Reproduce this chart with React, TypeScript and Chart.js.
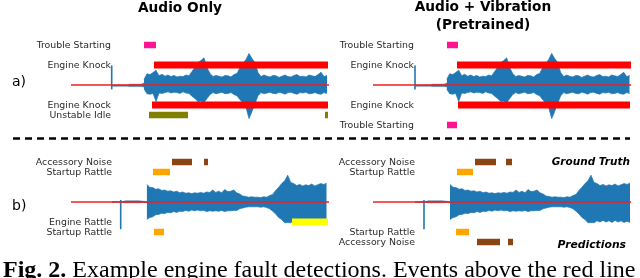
import React, { useEffect, useRef } from "react";
import { Chart, registerables } from "chart.js";

Chart.register(...registerables);

// ---------- shared axes (time in s, amplitude normalised) ----------
const T_MIN = 0;
const T_MAX = 25.8;
const AMP_MIN = -1.25;
const AMP_MAX = 1.25;

// ---------- waveform envelopes (sampled every WAVE_DT seconds) ----------
const WAVE_DT = 0.3;

// row a) recording
const WAVE_A_UPPER = [
  0.14, 0.28, 0.26, 0.31, 0.37, 0.23, 0.27, 0.22, 0.25, 0.21,
  0.24, 0.20, 0.22, 0.21, 0.25, 0.23, 0.34, 0.45, 0.56, 0.61,
  0.68, 0.44, 0.29, 0.21, 0.24, 0.22, 0.20, 0.24, 0.23, 0.20,
  0.26, 0.29, 0.44, 0.54, 0.64, 0.79, 0.66, 0.56, 0.31, 0.21,
  0.25, 0.22, 0.20, 0.24, 0.23, 0.19, 0.22, 0.25, 0.21, 0.20,
  0.24, 0.26, 0.21, 0.22, 0.20, 0.25, 0.23, 0.21, 0.26, 0.32,
  0.21, 0.24,
];
const WAVE_A_LOWER = [
  -0.10, -0.22, -0.23, -0.21, -0.41, -0.20, -0.21, -0.19, -0.17, -0.20,
  -0.18, -0.19, -0.21, -0.17, -0.20, -0.21, -0.28, -0.34, -0.41, -0.40,
  -0.44, -0.34, -0.24, -0.19, -0.22, -0.20, -0.18, -0.22, -0.21, -0.19,
  -0.24, -0.27, -0.37, -0.44, -0.56, -0.84, -0.66, -0.46, -0.27, -0.19,
  -0.22, -0.20, -0.18, -0.21, -0.22, -0.18, -0.20, -0.23, -0.19, -0.18,
  -0.21, -0.23, -0.19, -0.20, -0.18, -0.22, -0.21, -0.19, -0.22, -0.23,
  -0.19, -0.21,
];
const CLICK_A = [-0.11, 0.49]; // short transient before engine start
const PRE_A_T = [4.1, 5.7, 5.8, 7.0, 7.3];
const PRE_A_UP = [0.0, 0.0, 0.02, 0.02, 0.05];
const PRE_A_LO = [-0.03, -0.03, -0.04, -0.04, -0.05];

// row b) recording
const WAVE_B_UPPER = [
  0.44, 0.37, 0.36, 0.32, 0.33, 0.29, 0.30, 0.27, 0.28, 0.25,
  0.27, 0.23, 0.25, 0.22, 0.23, 0.21, 0.23, 0.22, 0.24, 0.22,
  0.25, 0.24, 0.30, 0.24, 0.27, 0.23, 0.31, 0.26, 0.27, 0.30,
  0.23, 0.20, 0.15, 0.14, 0.12, 0.13, 0.12, 0.12, 0.11, 0.13,
  0.12, 0.16, 0.19, 0.29, 0.37, 0.46, 0.53, 0.67, 0.49, 0.46,
  0.41, 0.44, 0.40, 0.43, 0.41, 0.45, 0.40, 0.43, 0.46, 0.44,
  0.47,
];
const WAVE_B_LOWER = [
  -0.44, -0.39, -0.37, -0.32, -0.31, -0.28, -0.29, -0.26, -0.27, -0.24,
  -0.26, -0.23, -0.24, -0.21, -0.23, -0.20, -0.22, -0.20, -0.22, -0.21,
  -0.24, -0.22, -0.23, -0.22, -0.23, -0.21, -0.24, -0.22, -0.22, -0.21,
  -0.21, -0.17, -0.15, -0.13, -0.12, -0.12, -0.12, -0.12, -0.13, -0.12,
  -0.14, -0.17, -0.23, -0.30, -0.39, -0.44, -0.52, -0.51, -0.52, -0.47,
  -0.50, -0.46, -0.50, -0.47, -0.51, -0.46, -0.50, -0.47, -0.51, -0.48,
  -0.51,
];
const CLICK_B = [-0.68, 0.05];
const PRE_B_T = [4.1, 5.2, 5.4, 6.8, 7.6];
const PRE_B_UP = [0.01, 0.01, 0.03, 0.03, 0.01];
const PRE_B_LO = [-0.01, -0.01, -0.02, -0.02, -0.01];

// ---------- event intervals [start, end] in seconds ----------
// a) Audio only
const A1_GT_TROUBLE = [[7.3, 8.5]];
const A1_GT_KNOCK = [[8.3, 25.7]];
const A1_PR_KNOCK = [[8.1, 25.7]];
const A1_PR_IDLE = [[7.8, 11.7], [25.4, 25.7]];
// a) Audio + vibration
const A2_GT_TROUBLE = [[7.4, 8.5]];
const A2_GT_KNOCK = [[8.4, 25.8]];
const A2_PR_KNOCK = [[8.5, 25.7]];
const A2_PR_TROUBLE = [[7.4, 8.4]];
// b) Audio only
const B1_GT_ACCESSORY = [[10.1, 12.1], [13.3, 13.7]];
const B1_GT_STARTUP = [[8.2, 9.9]];
const B1_PR_ENGINE = [[22.1, 25.7]];
const B1_PR_STARTUP = [[8.3, 9.3]];
// b) Audio + vibration
const B2_GT_ACCESSORY = [[10.2, 12.3], [13.3, 13.9]];
const B2_GT_STARTUP = [[8.4, 10.0]];
const B2_PR_STARTUP = [[8.3, 9.6]];
const B2_PR_ACCESSORY = [[10.4, 12.7], [13.5, 14.0]];

// ---------- styles ----------
const WAVE_COLOR = "#1f77b4";
const RED = "#ff0000";
const PINK = "#ff1493";
const OLIVE = "#808000";
const ORANGE = "#ffa500";
const BROWN = "#8b4513";
const YELLOW = "#ffff00";
const LABEL_FONT = '9.4px "DejaVu Sans"';
const LABEL_COLOR = "#2b2b2b";

type Row = { label: string; y: number; color: string; spans: number[][]; width?: number };
type PanelSpec = {
  rows: Row[];
  labelT: number;
  waveStart: number;
  upper: number[];
  lower: number[];
  clickT: number;
  click: number[];
  preT: number[];
  preUp: number[];
  preLo: number[];
};

function pts(xs: number[], ys: number[]) {
  return xs.map((x, i) => ({ x, y: ys[i] }));
}
function wavePts(start: number, ys: number[]) {
  return ys.map((y, i) => ({ x: start + i * WAVE_DT, y }));
}

function buildDatasets(p: PanelSpec) {
  const ds: any[] = [];
  const base = { pointRadius: 0, tension: 0, borderCapStyle: "butt", fill: false };
  // event bars (on top)
  p.rows.forEach((r) => {
    r.spans.forEach(([s, e]) => {
      ds.push({
        ...base,
        data: [{ x: s, y: r.y }, { x: e, y: r.y }],
        borderColor: r.color,
        borderWidth: r.width ?? 6.5,
      });
    });
  });
  // red reference line
  ds.push({
    ...base,
    data: [{ x: T_MIN, y: 0 }, { x: T_MAX, y: 0 }],
    borderColor: "#f01e23",
    borderWidth: 1.3,
  });
  // transient click
  ds.push({
    ...base,
    data: [{ x: p.clickT, y: p.click[0] }, { x: p.clickT, y: p.click[1] }],
    borderColor: WAVE_COLOR,
    borderWidth: 1.6,
  });
  // pre-start low-level signal
  ds.push({
    ...base,
    data: pts(p.preT, p.preUp),
    borderColor: "#4a6f96",
    backgroundColor: "#4a6f96",
    borderWidth: 0.5,
    fill: "+1",
  });
  ds.push({
    ...base,
    data: pts(p.preT, p.preLo),
    borderColor: "#4a6f96",
    borderWidth: 0.5,
  });
  // engine waveform envelope
  ds.push({
    ...base,
    data: wavePts(p.waveStart, p.upper),
    borderColor: WAVE_COLOR,
    backgroundColor: WAVE_COLOR,
    borderWidth: 0.7,
    fill: "+1",
  });
  ds.push({
    ...base,
    data: wavePts(p.waveStart, p.lower),
    borderColor: WAVE_COLOR,
    borderWidth: 0.7,
  });
  return ds;
}

function labelPlugin(p: PanelSpec) {
  return {
    id: "rowLabels",
    afterDatasetsDraw(chart: any) {
      const ctx = chart.ctx;
      const xs = chart.scales.x;
      const ys = chart.scales.y;
      ctx.save();
      ctx.font = LABEL_FONT;
      ctx.fillStyle = LABEL_COLOR;
      ctx.textAlign = "right";
      ctx.textBaseline = "alphabetic";
      const x = xs.getPixelForValue(p.labelT);
      p.rows.forEach((r) => {
        ctx.fillText(r.label, x, ys.getPixelForValue(r.y) + 3.4);
      });
      ctx.restore();
    },
  };
}

const PANEL_W = 300;
const PANEL_H = 100;
const PAD_LEFT = 41;

function Panel({ left, top, spec }: { left: number; top: number; spec: PanelSpec }) {
  const ref = useRef<HTMLCanvasElement>(null);
  useEffect(() => {
    const chart = new Chart(ref.current as HTMLCanvasElement, {
      type: "line",
      data: { datasets: buildDatasets(spec) },
      options: {
        animation: false,
        responsive: false,
        devicePixelRatio: 1,
        events: [],
        layout: { padding: { left: PAD_LEFT, right: 1, top: 0, bottom: 0 } },
        scales: {
          x: { type: "linear", min: T_MIN, max: T_MAX, display: false },
          y: { type: "linear", min: AMP_MIN, max: AMP_MAX, display: false },
        },
        plugins: { legend: { display: false }, tooltip: { enabled: false } },
      },
      plugins: [labelPlugin(spec)],
    } as any);
    return () => chart.destroy();
  }, []);
  return (
    <canvas
      ref={ref}
      width={PANEL_W}
      height={PANEL_H}
      style={{ position: "absolute", left, top, width: PANEL_W, height: PANEL_H }}
    />
  );
}

const PANEL_A1: PanelSpec = {
  rows: [
    { label: "Trouble Starting", y: 1.0, color: PINK, spans: A1_GT_TROUBLE },
    { label: "Engine Knock", y: 0.5, color: RED, spans: A1_GT_KNOCK, width: 7 },
    { label: "Engine Knock", y: -0.5, color: RED, spans: A1_PR_KNOCK, width: 7 },
    { label: "Unstable Idle", y: -0.75, color: OLIVE, spans: A1_PR_IDLE },
  ],
  labelT: 4.0,
  waveStart: 7.3,
  upper: WAVE_A_UPPER,
  lower: WAVE_A_LOWER,
  clickT: 4.07,
  click: CLICK_A,
  preT: PRE_A_T,
  preUp: PRE_A_UP,
  preLo: PRE_A_LO,
};
const PANEL_A2: PanelSpec = {
  rows: [
    { label: "Trouble Starting", y: 1.0, color: PINK, spans: A2_GT_TROUBLE },
    { label: "Engine Knock", y: 0.5, color: RED, spans: A2_GT_KNOCK, width: 7 },
    { label: "Engine Knock", y: -0.5, color: RED, spans: A2_PR_KNOCK, width: 7 },
    { label: "Trouble Starting", y: -1.0, color: PINK, spans: A2_PR_TROUBLE },
  ],
  labelT: 4.1,
  waveStart: 7.37,
  upper: WAVE_A_UPPER,
  lower: WAVE_A_LOWER,
  clickT: 4.2,
  click: CLICK_A,
  preT: PRE_A_T.map((t) => t + 0.1),
  preUp: PRE_A_UP,
  preLo: PRE_A_LO,
};
const PANEL_B1: PanelSpec = {
  rows: [
    { label: "Accessory Noise", y: 1.0, color: BROWN, spans: B1_GT_ACCESSORY },
    { label: "Startup Rattle", y: 0.75, color: ORANGE, spans: B1_GT_STARTUP },
    { label: "Engine Rattle", y: -0.5, color: YELLOW, spans: B1_PR_ENGINE, width: 7 },
    { label: "Startup Rattle", y: -0.75, color: ORANGE, spans: B1_PR_STARTUP },
  ],
  labelT: 4.1,
  waveStart: 7.57,
  upper: WAVE_B_UPPER,
  lower: WAVE_B_LOWER,
  clickT: 4.97,
  click: CLICK_B,
  preT: PRE_B_T,
  preUp: PRE_B_UP,
  preLo: PRE_B_LO,
};
const PANEL_B2: PanelSpec = {
  rows: [
    { label: "Accessory Noise", y: 1.0, color: BROWN, spans: B2_GT_ACCESSORY },
    { label: "Startup Rattle", y: 0.75, color: ORANGE, spans: B2_GT_STARTUP },
    { label: "Startup Rattle", y: -0.75, color: ORANGE, spans: B2_PR_STARTUP },
    { label: "Accessory Noise", y: -1.0, color: BROWN, spans: B2_PR_ACCESSORY },
  ],
  labelT: 4.2,
  waveStart: 7.7,
  upper: WAVE_B_UPPER,
  lower: WAVE_B_LOWER,
  clickT: 5.1,
  click: CLICK_B,
  preT: PRE_B_T.map((t) => t + 0.1),
  preUp: PRE_B_UP,
  preLo: PRE_B_LO,
};

const SANS = '"DejaVu Sans", sans-serif';
const SERIF = '"Liberation Serif", "Times New Roman", serif';

export default function App() {
  return (
    <div
      style={{
        position: "fixed",
        left: 0,
        top: 0,
        width: 640,
        height: 278,
        overflow: "hidden",
        background: "#ffffff",
      }}
    >
      <Panel left={30} top={35} spec={PANEL_A1} />
      <Panel left={332} top={35} spec={PANEL_A2} />
      <Panel left={30} top={152} spec={PANEL_B1} />
      <Panel left={332} top={152} spec={PANEL_B2} />
      <svg
        width={640}
        height={278}
        style={{ position: "absolute", left: 0, top: 0, pointerEvents: "none" }}
      >
        <text x={180} y={11.7} textAnchor="middle" fontFamily={SANS} fontWeight="bold" fontSize={13.7} fill="#000">
          Audio Only
        </text>
        <text x={483} y={10.5} textAnchor="middle" fontFamily={SANS} fontWeight="bold" fontSize={13.7} fill="#000">
          Audio + Vibration
        </text>
        <text x={483} y={29} textAnchor="middle" fontFamily={SANS} fontWeight="bold" fontSize={13.7} fill="#000">
          (Pretrained)
        </text>
        <text x={12} y={86.2} fontFamily={SANS} fontSize={14} fill="#000">
          a)
        </text>
        <text x={12} y={210} fontFamily={SANS} fontSize={14} fill="#000">
          b)
        </text>
        <line x1={13} y1={138.5} x2={630} y2={138.5} stroke="#000" strokeWidth={2.6} strokeDasharray="7 5" />
        <text x={630} y={164.5} textAnchor="end" fontFamily={SANS} fontWeight="bold" fontStyle="italic" fontSize={10.5} fill="#000">
          Ground Truth
        </text>
        <text x={626} y={248} textAnchor="end" fontFamily={SANS} fontWeight="bold" fontStyle="italic" fontSize={10.8} fill="#000">
          Predictions
        </text>
        <text x={3} y={276.5} fontFamily={SERIF} fontSize={24} fill="#000">
          <tspan fontWeight="bold">Fig. 2.</tspan>
          <tspan> Example engine fault detections. Events above the red line</tspan>
        </text>
      </svg>
    </div>
  );
}
